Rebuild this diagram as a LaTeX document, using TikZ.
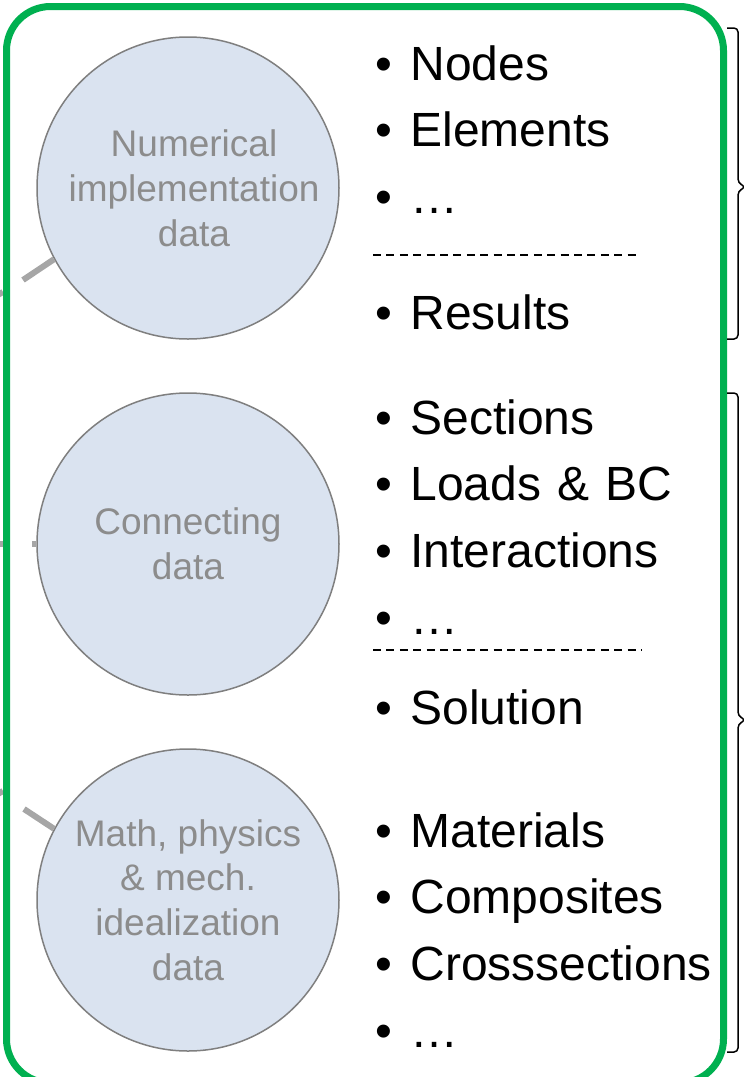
\documentclass[tikz,border=0pt]{standalone}
\usepackage{fontspec}
\setmainfont{Liberation Sans}
\usepackage{xcolor}
\usetikzlibrary{positioning,calc}

\definecolor{framegreen}{HTML}{00B050}
\definecolor{bubblefill}{HTML}{DAE3F0}
\definecolor{bubbleline}{HTML}{7F7F7F}
\definecolor{bubbletext}{HTML}{8C8C8C}
\definecolor{stubgrey}{HTML}{A6A6A6}

\newcommand{\itm}[1]{\makebox[17.5pt][l]{\textbullet}#1}

\begin{document}
\begin{tikzpicture}[x=0.5pt, y=-0.5pt, node distance=9pt,
    bubble/.style={circle, draw=bubbleline, line width=0.75pt, fill=bubblefill,
        minimum size=151pt, inner sep=0pt, align=center, text=bubbletext,
        font=\fontsize{18.5}{22.4}\selectfont},
    item/.style={text width=170pt, align=left, inner sep=0pt,
        text height=18pt, text depth=6pt, font=\fontsize{24}{28}\selectfont},
    sepline/.style={line width=0.75pt, dash pattern=on 4pt off 2.7pt},
    bracket/.style={line width=0.75pt, rounded corners=2pt},
    stub/.style={draw=stubgrey, line width=3pt},
    frame/.style={draw=framegreen, line width=3.5pt, rounded corners=22pt}]
    \useasboundingbox (0,0) rectangle (744,1077);

    % bubbles
    \node [bubble] (numdata) at (188,188) {\hspace*{6pt}Numerical\\\hspace*{6pt}implementation\\\hspace*{6pt}data};
    \node [bubble] (condata) at (188,544) {Connecting\\data};
    \node [bubble] (mathdata) at (188,900) {Math, physics\\\& mech.\\idealization\\data};

    % stubs from the left
    \coordinate (numin) at (23,280);
    \coordinate (conin) at (32,544);
    \coordinate (mathin) at (24,809);
    \draw [stub] (numin) -- (numdata.208);
    \draw [stub] (conin) -- (condata.west);
    \draw [stub] (mathin) -- (mathdata.152);
    \draw [stub] (-4,296) -- (3,292);
    \draw [stub] (-4,544) -- (3,544);
    \draw [stub] (-4,795) -- (3,791);

    % lists
    \node [item, anchor=base west] (nodes) at (375,80) {\itm{Nodes}};
    \node [item, below=of nodes] (elements) {\itm{Elements}};
    \node [item, below=of elements] (dotsA) {\itm{…}};
    \node [item, below=33.5pt of dotsA] (results) {\itm{Results}};

    \node [item, anchor=base west] (sections) at (375,434) {\itm{Sections}};
    \node [item, below=of sections] (loads) {\itm{Loads \& BC}};
    \node [item, below=of loads] (interactions) {\itm{Interactions}};
    \node [item, below=of interactions] (dotsB) {\itm{…}};
    \node [item, below=20.5pt of dotsB] (solution) {\itm{Solution}};

    \node [item, anchor=base west] (materials) at (375,847) {\itm{Materials}};
    \node [item, below=of materials] (composites) {\itm{Composites}};
    \node [item, below=of composites] (crosssections) {\itm{Crosssections}};
    \node [item, below=of crosssections] (dotsC) {\itm{…}};

    \draw [sepline] (373,255) -- (640,255);
    \draw [sepline] (373,650) -- (642,650);

    % green frame
    \draw [frame] (6.5,6.5) rectangle (723.5,1083);

    % braces on the right
    \draw [bracket] (727,28) -| (738,183) -- (746,187) -- (738,191) |- (727,339);
    \draw [bracket] (727,393) -| (738,716) -- (746,720) -- (738,724) |- (727,1052);
\end{tikzpicture}
\end{document}
